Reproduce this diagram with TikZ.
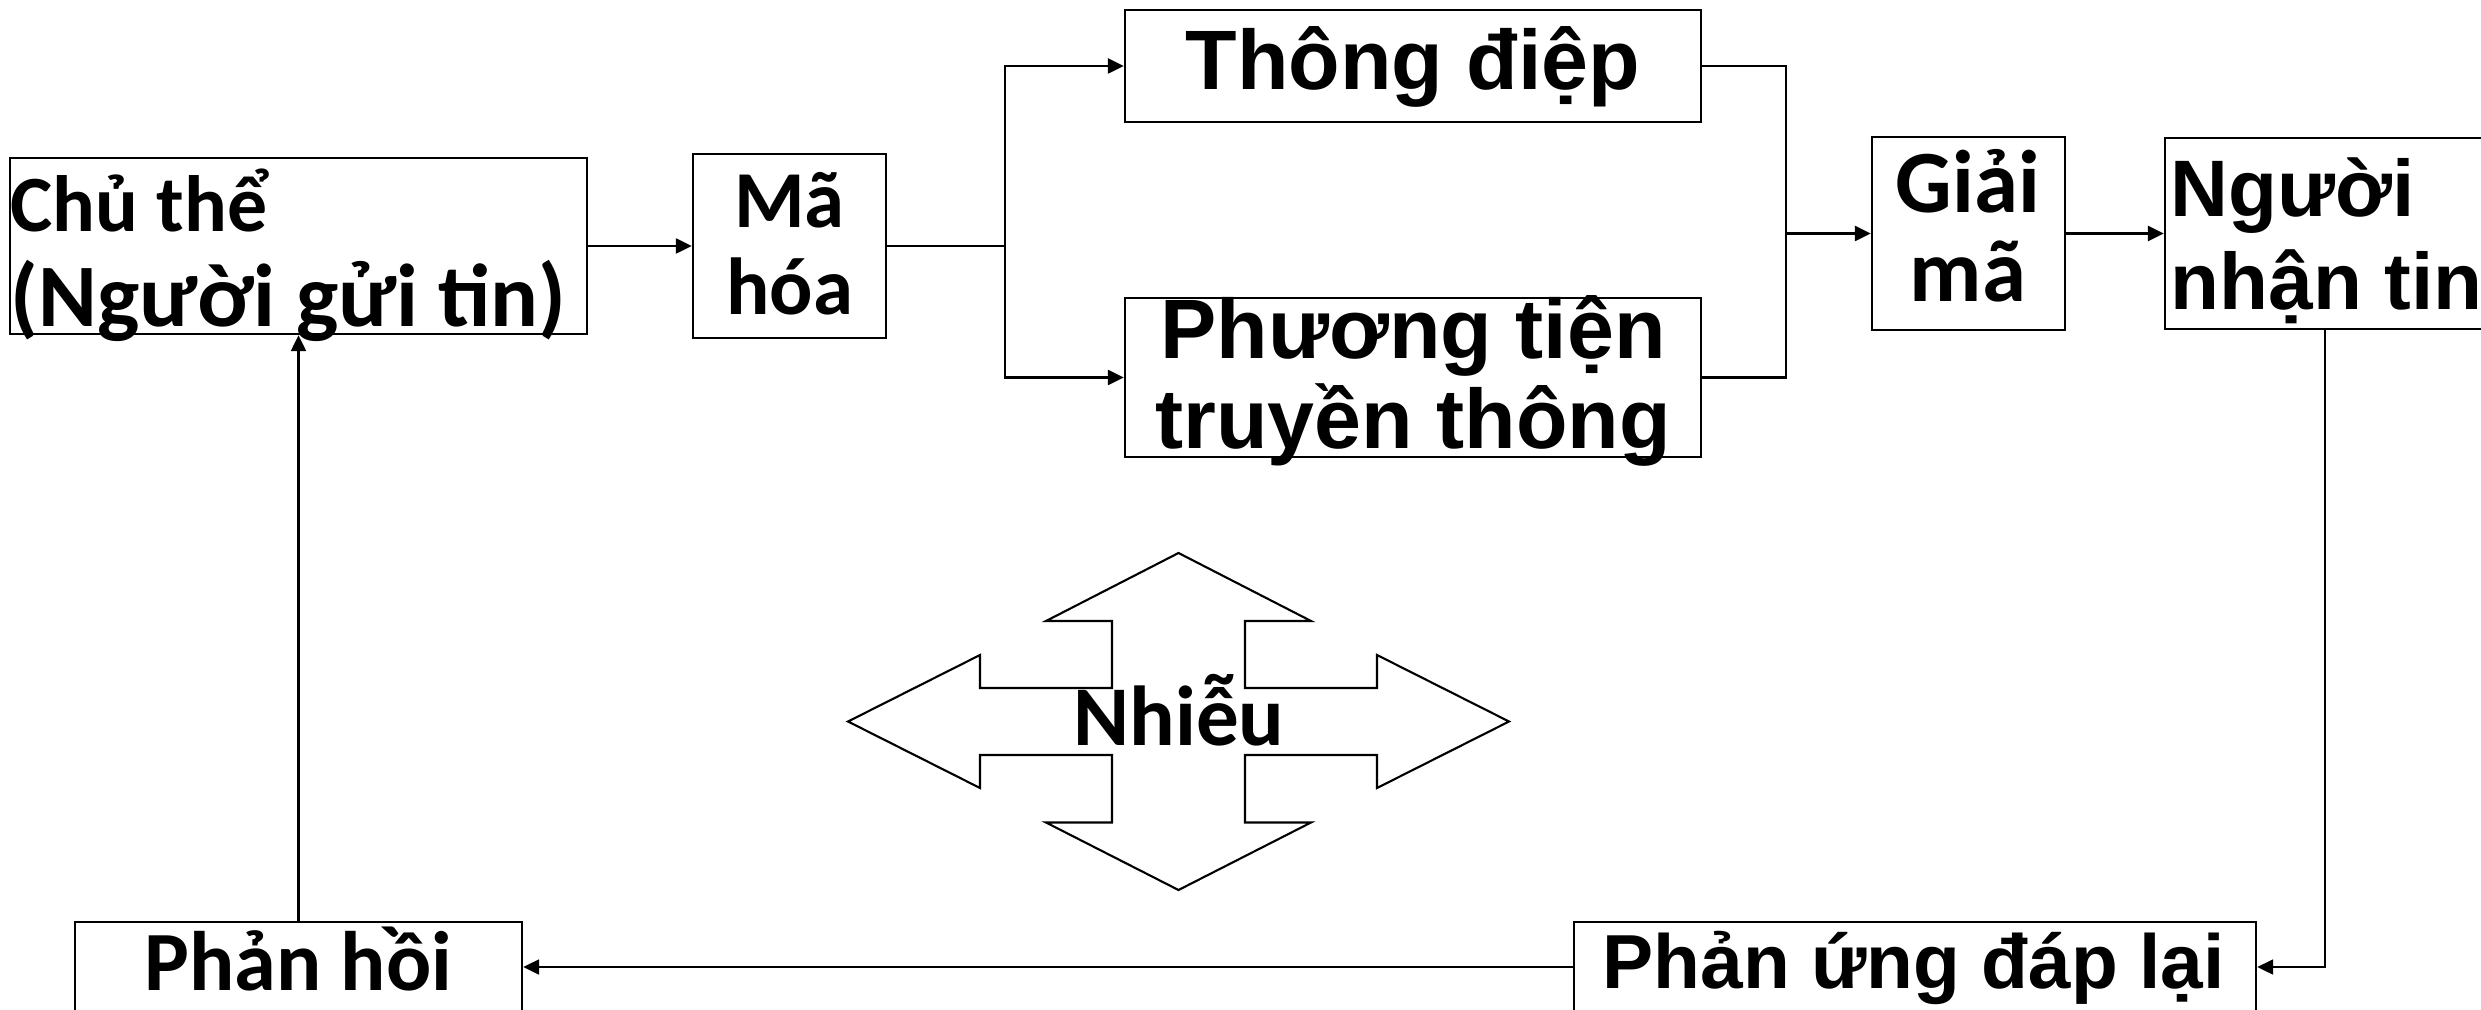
\documentclass[tikz,border=0pt]{standalone}
\usepackage{fontspec}
\setmainfont{Carlito}
\newfontfamily\arialfont{Liberation Sans}
\usetikzlibrary{arrows.meta}
\tikzstyle{block}=[rectangle, draw, line width=0.7pt, inner sep=0pt]
\tikzstyle{calb}=[inner sep=0pt, align=center, font=\bfseries]
\tikzstyle{arib}=[inner sep=0pt, align=center, font=\arialfont\bfseries]
\tikzstyle{flow}=[-{Triangle[length=4.5pt,width=4.2pt]}, line width=0.75pt]
\tikzstyle{link}=[line width=0.75pt]
\tikzstyle{noisy}=[line width=0.6pt, line join=miter]

\begin{document}
\begin{tikzpicture}[x=0.1mm,y=-0.1mm]
  \useasboundingbox (0,0) rectangle (2481,1010);
  % boxes
  \node[block, minimum width=57.7mm, minimum height=17.6mm] (sender)   at (298.5,246)  {};
  \node[block, minimum width=19.3mm, minimum height=18.4mm] (encode)   at (789.5,246)  {};
  \node[block, minimum width=57.6mm, minimum height=11.2mm] (msg)      at (1413,66)    {};
  \node[block, minimum width=57.6mm, minimum height=15.9mm] (media)    at (1413,377.5) {};
  \node[block, minimum width=19.3mm, minimum height=19.3mm] (decode)   at (1968.5,233.5) {};
  \node[block, minimum width=32mm,   minimum height=19.1mm] (receiver) at (2325,233.5) {};
  \node[block, minimum width=68.2mm, minimum height=9mm]    (reply)    at (1915,967)   {};
  \node[block, minimum width=44.7mm, minimum height=9mm]    (feedback) at (298.5,967)  {};
  % texts (base = last line)
  \node[calb, anchor=base west, font=\fontsize{22.7}{25}\selectfont\bfseries] (sendertop) at (10,232) {Chủ thể};
  \node[calb, anchor=base west, font=\fontsize{25.4}{28}\selectfont\bfseries] (senderbot) at (10,327) {(Người gửi tin)};
  \node[calb, anchor=base, font=\fontsize{23}{25}\selectfont\bfseries] (encodetxt) at (789.5,315) {Mã\\hóa};
  \node[arib, anchor=base, font=\arialfont\fontsize{24}{26}\selectfont\bfseries] (msgtxt) at (1413,90) {Thông điệp};
  \node[arib, anchor=base, font=\arialfont\fontsize{24}{25.6}\selectfont\bfseries] (mediatxt) at (1413,448) {Phương tiện\\truyền thông};
  \node[calb, anchor=base, font=\fontsize{25.3}{25.6}\selectfont\bfseries] (decodetxt) at (1968,302) {Giải\\mã};
  \node[arib, anchor=base west, align=left, font=\arialfont\fontsize{22.8}{26.5}\selectfont\bfseries] (receivertxt) at (2170,310) {Người\\nhận tin};
  \node[arib, anchor=base, font=\arialfont\fontsize{21.8}{25}\selectfont\bfseries] (replytxt) at (1913.5,988) {Phản ứng đáp lại};
  \node[calb, anchor=base, font=\fontsize{24}{26}\selectfont\bfseries] (feedbacktxt) at (298.5,990) {Phản hồi};
  \node[calb, anchor=base, font=\fontsize{24.2}{26}\selectfont\bfseries] (noise) at (1179,745) {Nhiễu};
  % four-way arrow round the noise
  \draw[noisy, shift={(1178.5,721.5)}]
    (0,-168.5) -- (132.5,-100.5) -- (66.5,-100.5) -- (66.5,-33.5) -- (198.5,-33.5) -- (198.5,-66.5)
    -- (330.5,0) -- (198.5,66.5) -- (198.5,33.5) -- (66.5,33.5) -- (66.5,101) -- (132.5,101)
    -- (0,168.5) -- (-132.5,101) -- (-66.5,101) -- (-66.5,33.5) -- (-198.5,33.5) -- (-198.5,66.5)
    -- (-330.5,0) -- (-198.5,-66.5) -- (-198.5,-33.5) -- (-66.5,-33.5) -- (-66.5,-100.5) -- (-132.5,-100.5)
    -- cycle;
  % connectors
  \coordinate (fork) at (1005,246);
  \coordinate (join) at (1786,233.5);
  \draw[flow] (sender) -- (encode);
  \draw[link] (encode.east) -- (fork);
  \draw[flow] (fork) |- (msg.west);
  \draw[flow] (fork) |- (media.west);
  \draw[link] (msg.east) -| (join);
  \draw[link] (media.east) -| (join);
  \draw[flow] (join) -- (decode.west);
  \draw[flow] (decode) -- (receiver);
  \draw[flow] (receiver.south) |- (reply.east);
  \draw[flow] (reply) -- (feedback);
  \draw[flow] (feedback) -- (sender);
\end{tikzpicture}
\end{document}
